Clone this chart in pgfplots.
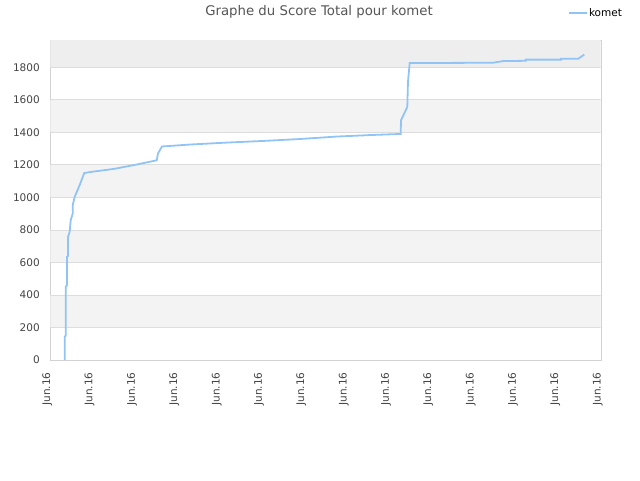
\documentclass[border=0pt]{standalone}
\usepackage{fontspec}
\setmainfont{DejaVu Sans}
\usepackage{pgfplots}
\pgfplotsset{compat=1.18}
\definecolor{linec}{RGB}{145,196,245}
\definecolor{bandc}{RGB}{243,243,243}
\definecolor{topband}{RGB}{238,238,238}
\definecolor{gridc}{RGB}{221,221,221}
\definecolor{framec}{RGB}{210,210,210}
\definecolor{titlec}{RGB}{85,85,85}
\definecolor{tickc}{RGB}{68,68,68}
\begin{document}
\begin{tikzpicture}[x=1pt,y=1pt]
\path (0,0) rectangle (640,480);
\node[text=titlec,font=\fontsize{13.3}{15}\selectfont] at (319,468) {Graphe du Score Total pour komet};
\begin{axis}[
  at={(50.3pt,120pt)}, anchor=south west,
  scale only axis, width=550.4pt, height=319.7pt,
  xmin=0, xmax=13, ymin=0, ymax=1966,
  xtick={0,...,13}, xticklabel={Jun.16},
  ytick={0,200,...,1800},
  major tick length=0pt,
  axis line style={framec},
  tick label style={text=tickc,font=\fontsize{10.5}{12}\selectfont},
  /pgf/number format/assume math mode=true,
  /pgf/number format/1000 sep={},
  yticklabel style={xshift=-7pt},
  xticklabel style={rotate=90,anchor=east,xshift=-9pt,yshift=3pt},
  legend style={at={(0.9907,1.0854)},anchor=center,draw=none,fill=none,
    font=\fontsize{10.5}{12}\selectfont, inner sep=0pt,
    nodes={inner sep=1pt}},
  legend image code/.code={\draw[#1] (0pt,0pt) -- (10pt,0pt); \path (0pt,0pt) -- (18pt,0pt);},
]
\fill[bandc] (axis cs:0,200) rectangle (axis cs:13,400);
\fill[bandc] (axis cs:0,600) rectangle (axis cs:13,800);
\fill[bandc] (axis cs:0,1000) rectangle (axis cs:13,1200);
\fill[bandc] (axis cs:0,1400) rectangle (axis cs:13,1600);
\fill[topband] (axis cs:0,1800) rectangle (axis cs:13,1966);
\foreach \v in {200,400,...,1800} {
  \edef\temp{\noexpand\draw[gridc,line width=0.8pt] (axis cs:0,\v) -- (axis cs:13,\v);}
  \temp
}
\addplot[linec, line width=1.8pt, forget plot] coordinates {
(0.340,0) (0.340,143) (0.364,150) (0.364,450) (0.394,460) (0.394,635)
(0.418,640) (0.418,757) (0.458,790) (0.482,860) (0.529,900) (0.529,952)
(0.576,1003) (0.70,1080) (0.803,1150) (1.0,1158) (1.5,1175) (2.0,1200)
(2.513,1228) (2.544,1270) (2.638,1313) (3.30,1325) (4.17,1337) (5.02,1347)
(5.90,1359) (6.76,1374) (7.62,1384) (8.276,1390) (8.283,1474) (8.432,1556)
(8.448,1710) (8.488,1826) (10.455,1828) (10.691,1838) (11.228,1840)
(11.228,1847) (12.062,1847) (12.062,1853) (12.471,1853) (12.612,1878)
};
\addlegendimage{linec, line width=1.8pt}
\addlegendentry{komet}
\end{axis}
\end{tikzpicture}
\end{document}
